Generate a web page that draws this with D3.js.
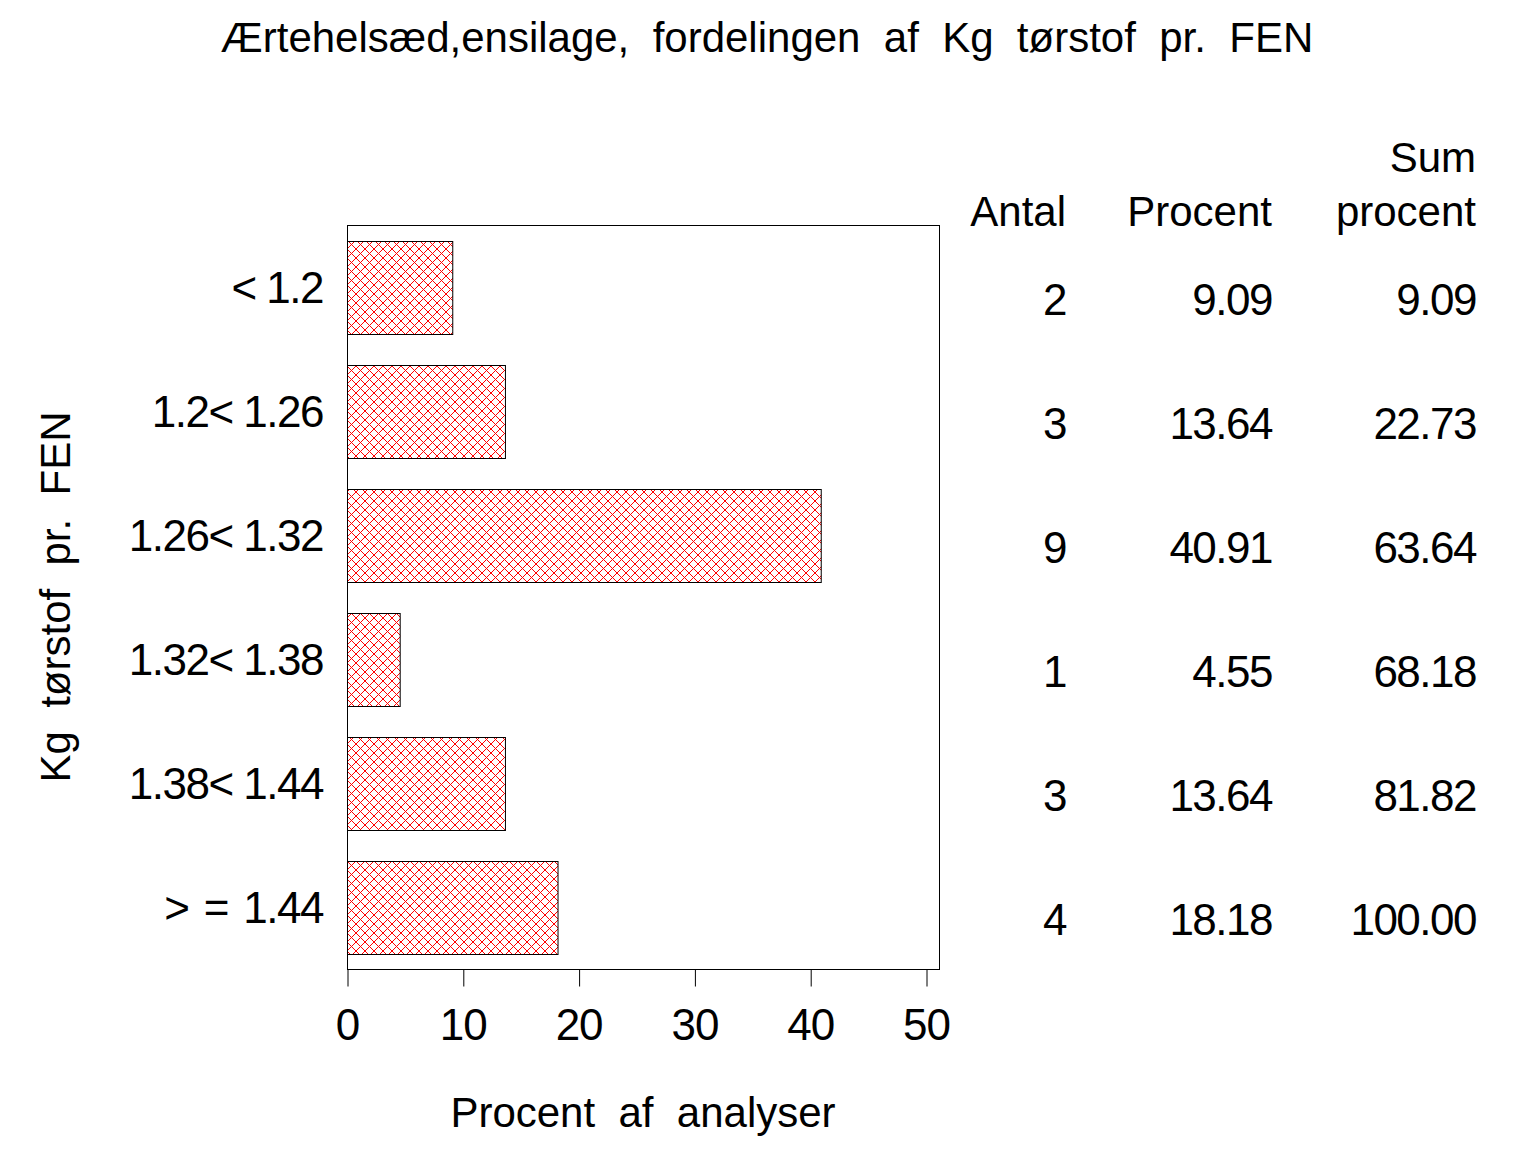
<!DOCTYPE html>
<html><head><meta charset="utf-8">
<script src="https://cdn.jsdelivr.net/npm/d3@7"></script>
<style>
body{margin:0;background:#fff;}
text{font-family:"Liberation Sans",Arial,sans-serif;fill:#000;}
</style></head>
<body>
<svg id="c" width="1536" height="1152"></svg>
<script>
const categories = ["< 1.2", "1.2< 1.26", "1.26< 1.32", "1.32< 1.38", "1.38< 1.44", ">\u2004\u200a=\u2004\u200a1.44"];
const antal = [2, 3, 9, 1, 3, 4];
const procent = [9.09, 13.64, 40.91, 4.55, 13.64, 18.18];
const sumProcent = [9.09, 22.73, 63.64, 68.18, 81.82, 100.00];
const xTicks = [0, 10, 20, 30, 40, 50];
const title = "Ærtehelsæd,ensilage,  fordelingen  af  Kg  tørstof  pr.  FEN";
const xLabel = "Procent  af  analyser";
const yLabel = "Kg  tørstof  pr.  FEN";

const svg = d3.select("#c");
const L = 347, R = 939, T = 225, B = 969;

const defs = svg.append("defs");
const pat = defs.append("pattern").attr("id","hatch").attr("patternUnits","userSpaceOnUse")
  .attr("width",9).attr("height",9).attr("x",347).attr("y",240);
pat.append("rect").attr("width",9).attr("height",9).attr("fill","#fff");
pat.append("path").attr("d","M0,0L9,9M9,0L0,9").attr("stroke","#ff0000").attr("stroke-width",1).attr("fill","none");

const x = d3.scaleLinear().domain([0,50]).range([L,926]);
const y = d3.scaleBand().domain(categories).range([T,B]).paddingInner(0.25).paddingOuter(0.125);

svg.append("text").attr("x",767).attr("y",52).attr("text-anchor","middle")
  .attr("font-size",42).style("white-space","pre").text(title);

// frame
svg.append("rect").attr("x",L+0.5).attr("y",T+0.5).attr("width",R-L).attr("height",B-T)
  .attr("fill","none").attr("stroke","#000").attr("stroke-width",1);

// bars
svg.selectAll("rect.bar").data(categories).enter().append("rect").attr("class","bar")
  .attr("x",L+0.5).attr("y",d=>Math.round(y(d))+0.5)
  .attr("width",(d,i)=>x(procent[i])-L).attr("height",Math.round(y.bandwidth()))
  .attr("fill","url(#hatch)").attr("stroke","#000").attr("stroke-width",1);

// x axis
const xa = svg.append("g").attr("transform",`translate(0,${B+0.5})`)
  .call(d3.axisBottom(x).tickValues(xTicks).tickSize(17).tickPadding(22).tickSizeOuter(0));
xa.select(".domain").attr("d",`M${L},0H${R+0.5}`);
xa.selectAll("line").attr("stroke","#000").attr("transform","translate(0.5,0)");
xa.selectAll("text").attr("font-size",44).attr("font-family","Liberation Sans, Arial, sans-serif")
  .attr("letter-spacing","-1").attr("dy","0.71em");

// y labels
svg.selectAll("text.cat").data(categories).enter().append("text").attr("class","cat")
  .attr("x",323).attr("y",d=>y(d)+y.bandwidth()/2+16).attr("text-anchor","end")
  .attr("font-size",44).attr("letter-spacing","-1.5").style("white-space","pre").text(d=>d);

svg.append("text").attr("transform",`translate(70,${(T+B)/2}) rotate(-90)`).attr("text-anchor","middle")
  .attr("font-size",42).style("white-space","pre").text(yLabel);

svg.append("text").attr("x",(L+R)/2).attr("y",1127).attr("text-anchor","middle")
  .attr("font-size",42).style("white-space","pre").text(xLabel);

// table
const cols = [
  {x:1066, head:["","Antal"], vals:antal.map(v=>String(v))},
  {x:1272, head:["","Procent"], vals:procent.map(v=>v.toFixed(2))},
  {x:1476, head:["Sum","procent"], vals:sumProcent.map(v=>v.toFixed(2))}
];
cols.forEach(c=>{
  svg.append("text").attr("x",c.x).attr("y",172).attr("text-anchor","end").attr("font-size",42).text(c.head[0]);
  svg.append("text").attr("x",c.x).attr("y",226).attr("text-anchor","end").attr("font-size",42).text(c.head[1]);
  svg.selectAll(null).data(c.vals).enter().append("text")
    .attr("x",c.x).attr("y",(d,i)=>y(categories[i])+y.bandwidth()/2+28)
    .attr("text-anchor","end").attr("font-size",44).attr("letter-spacing","-1.5").text(d=>d);
});
</script>
</body></html>
